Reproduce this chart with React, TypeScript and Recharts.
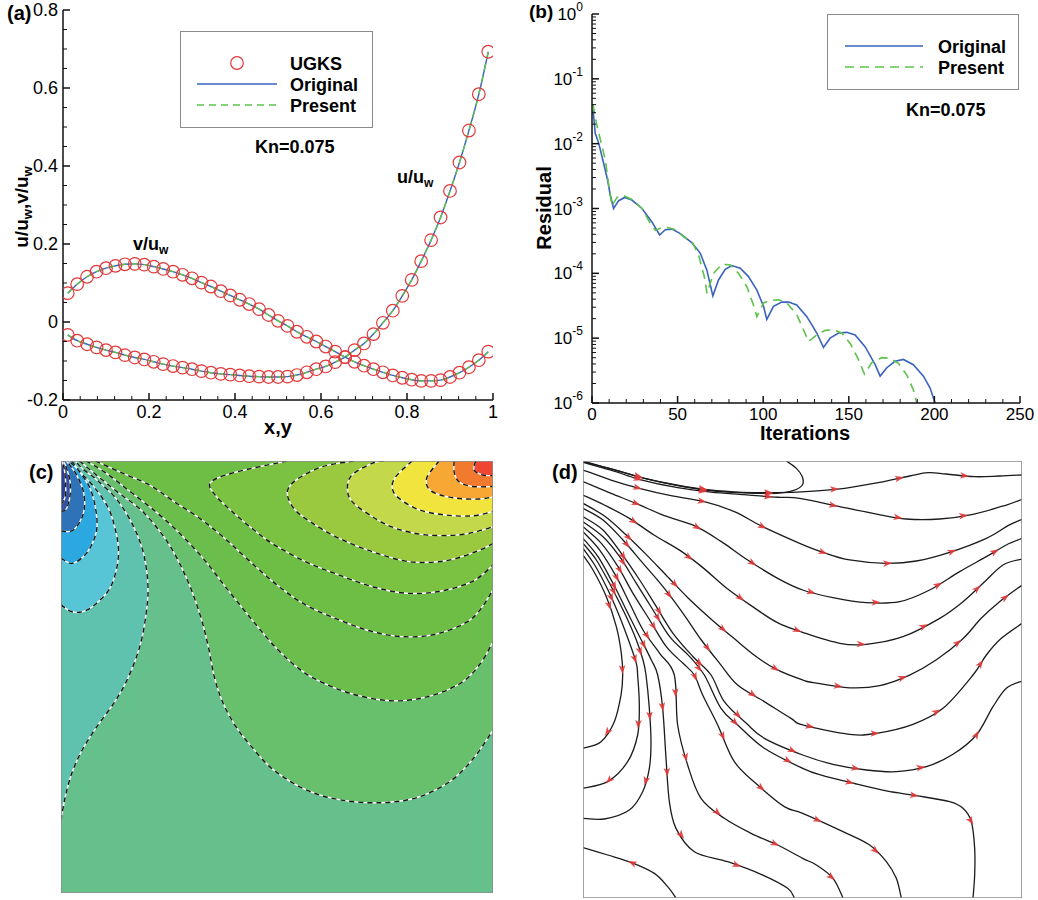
import React from 'react';
import { ComposedChart, LineChart, ScatterChart, Line, Scatter, XAxis, YAxis, Legend } from 'recharts';

const FONT = '"Liberation Sans", Arial, Helvetica, sans-serif';
const BLUE = '#3A63BE';
const GREEN = '#5EC24C';
const RED = '#E2383A';
const INK = '#111';

// (a) centreline velocity profiles, Kn = 0.075
const positions = [
  0.011, 0.033, 0.056, 0.078, 0.1, 0.122, 0.144, 0.167, 0.189, 0.211,
  0.233, 0.256, 0.278, 0.3, 0.322, 0.344, 0.367, 0.389, 0.411, 0.433,
  0.456, 0.478, 0.5, 0.522, 0.544, 0.567, 0.589, 0.611, 0.633, 0.656,
  0.678, 0.7, 0.722, 0.744, 0.767, 0.789, 0.811, 0.833, 0.856, 0.878,
  0.9, 0.922, 0.944, 0.967, 0.989,
];
const uProfile = [
  -0.033, -0.048, -0.057, -0.065, -0.072, -0.078, -0.085, -0.091, -0.096, -0.102,
  -0.108, -0.113, -0.117, -0.121, -0.126, -0.13, -0.133, -0.135, -0.137, -0.139,
  -0.14, -0.141, -0.141, -0.14, -0.136, -0.129, -0.121, -0.114, -0.103, -0.09,
  -0.072, -0.055, -0.031, -0.002, 0.029, 0.067, 0.108, 0.156, 0.21, 0.268,
  0.336, 0.409, 0.491, 0.584, 0.693,
];
const vProfile = [
  0.074, 0.097, 0.116, 0.129, 0.138, 0.144, 0.148, 0.149, 0.147, 0.142,
  0.136, 0.129, 0.121, 0.112, 0.101, 0.091, 0.079, 0.068, 0.057, 0.046,
  0.033, 0.018, 0.003, -0.01, -0.025, -0.038, -0.05, -0.063, -0.076, -0.09,
  -0.102, -0.112, -0.121, -0.129, -0.137, -0.143, -0.148, -0.151, -0.151, -0.149,
  -0.141, -0.13, -0.116, -0.098, -0.076,
];

// (b) residual history
const originalIter = [
  0.6, 1.9, 3.9, 6.8, 9.1, 10.7, 12.6, 15.6, 19.1, 23.3, 29.2, 35, 39.5, 42.8, 46.7, 51.6, 58.4,
  63.2, 67.1, 70.6, 73.9, 77.8, 81.7, 86.6, 91.4, 96.3, 100.2, 102.1, 106, 110.9, 114.8, 119.6,
  125.5, 131.3, 135.2, 139.1, 144, 148.8, 153.7, 159.5, 165.4, 168.3, 172.2, 177, 181.9, 187.7,
  193.6, 197.5, 200.4,
];
const originalRes = [
  3.3e-2, 1.45e-2, 1.02e-2, 5.0e-3, 2.75e-3, 1.6e-3, 1.0e-3, 1.32e-3, 1.48e-3, 1.35e-3, 1.0e-3,
  6.2e-4, 3.9e-4, 4.7e-4, 4.8e-4, 4.1e-4, 2.95e-4, 2.05e-4, 1.12e-4, 4.5e-5, 7.9e-5, 1.15e-4,
  1.32e-4, 1.2e-4, 8.9e-5, 5.5e-5, 3.1e-5, 1.95e-5, 3.1e-5, 3.6e-5, 3.6e-5, 3.25e-5, 2.15e-5,
  1.2e-5, 7.2e-6, 1.0e-5, 1.2e-5, 1.23e-5, 1.12e-5, 7.4e-6, 3.9e-6, 2.6e-6, 3.5e-6, 4.4e-6,
  4.7e-6, 3.9e-6, 2.6e-6, 1.7e-6, 1.0e-6,
];
const presentIter = [
  0.6, 2.5, 4.9, 7.8, 10.3, 11.7, 14.6, 18.5, 23.3, 29.2, 34, 37, 40.9, 44.4, 48.6, 54.5, 58.4,
  62.3, 66.1, 67.1, 71, 75.9, 80.7, 85.6, 90.5, 94.4, 96.3, 100.2, 104.1, 109, 113.8, 119.6,
  123.5, 126.5, 131.3, 136.2, 141, 145.9, 150.8, 155.6, 159.1, 163.4, 169.3, 174.1, 179, 183.9,
  187.7, 189.7,
];
const presentRes = [
  4.0e-2, 2.1e-2, 1.15e-2, 5.6e-3, 1.8e-3, 1.1e-3, 1.48e-3, 1.58e-3, 1.38e-3, 1.0e-3, 5.9e-4,
  4.6e-4, 5.1e-4, 5.1e-4, 4.7e-4, 3.5e-4, 3.1e-4, 1.9e-4, 7.9e-5, 4.9e-5, 1.0e-4, 1.38e-4,
  1.35e-4, 1.0e-4, 6.2e-5, 3.2e-5, 2.15e-5, 3.5e-5, 3.8e-5, 3.9e-5, 3.5e-5, 2.3e-5, 1.35e-5,
  8.9e-6, 1.12e-5, 1.32e-5, 1.35e-5, 1.2e-5, 8.3e-6, 4.7e-6, 2.8e-6, 4.2e-6, 5.0e-6, 4.9e-6,
  4.1e-6, 2.7e-6, 1.6e-6, 1.0e-6,
];

// (c) contour levels, x/y in percent of the cavity, y = 100 is the lid.
// left group wraps the upper-left corner, right group the upper-right one; outermost first
const contoursLeft = [
  [[0, 16.9], [1, 22.3], [2.5, 27.7], [4.9, 33.1], [8.3, 38.5], [12.2, 43.9], [14.9, 48.5], [17.2, 53.9], [18.8, 59.3], [19.9, 66.3], [20.1, 71.7], [19.1, 78.6], [16.8, 84.8], [13, 91], [8.3, 95.6], [5, 98.2], [3.3, 100]],
  [[0, 66.7], [2.5, 65.1], [5.6, 65.3], [8.6, 67.4], [11.3, 70.5], [12.9, 75.2], [13.3, 79.8], [12.5, 84.4], [11, 89], [7.9, 93.7], [4.6, 97.3], [2.5, 100]],
  [[0, 77.5], [2.5, 76.3], [5.2, 77.9], [7.1, 80.6], [8.3, 84.4], [8, 89], [6.7, 93.7], [4, 97.9], [1.8, 100]],
  [[0, 83.8], [2.5, 83.8], [4.4, 86], [5.4, 89], [5.2, 92.9], [3.6, 96.8], [1.9, 99.2], [1.2, 100]],
  [[0, 88.3], [1.3, 89], [2.1, 92.1], [2.1, 95.2], [1.3, 98.3], [0.6, 100]],
  [[0, 90], [0.9, 91.5], [1.1, 94.5], [0.8, 97.8], [0.3, 100]],
];
const contoursRight = [
  [[4.3, 100], [8.5, 96.5], [13.5, 92.5], [19.2, 88], [24.8, 81], [29, 73], [32, 65], [34, 57.5], [35.5, 50], [37.5, 44], [40.5, 38.5], [44, 34], [49.2, 28.5], [56.9, 23.8], [65, 21.5], [74, 20.9], [82.4, 22.1], [90, 25.8], [95.5, 31.2], [100, 37.7]],
  [[5.8, 100], [10, 97.5], [15, 93.7], [24, 86.5], [32, 78.5], [38.2, 70.7], [44.4, 63], [50, 56.5], [55, 52], [59.3, 49.3], [67, 46.2], [76.2, 44.5], [84.7, 45.4], [92.4, 48.5], [97, 53], [100, 58.2]],
  [[8, 100], [14, 97.3], [20.7, 94.3], [26, 90.7], [32, 86.8], [38, 82], [44, 76.5], [50, 71.3], [56.6, 66.7], [64.4, 63.2], [72.1, 60.5], [79.8, 59.3], [87.5, 60.1], [95.2, 63.6], [100, 70.1]],
  [[52.3, 100], [40, 97.3], [34.6, 95], [35.7, 92.1], [39.6, 88.3], [44.2, 84.4], [48.9, 80.9], [56.6, 76.7], [64.4, 73.6], [72.1, 70.9], [79.8, 69.4], [87.5, 69.8], [95.2, 72.1], [100, 75.9]],
  [[67.8, 100], [60.5, 98.7], [54.7, 95.8], [52.4, 92.9], [53.9, 89], [58.2, 85.6], [64.4, 82.1], [72.1, 79], [80.6, 76.7], [89, 76.9], [96, 79], [100, 80.9]],
  [[74.7, 100], [72.1, 99.5], [67.4, 96.8], [66.3, 93.7], [67.4, 90.6], [72.1, 87.1], [77.5, 84.4], [84.4, 82.9], [92.1, 82.9], [97.5, 84], [100, 84.8]],
  [[81.3, 100], [77.5, 96.4], [76.7, 93.7], [78.2, 91.4], [82.9, 88.7], [89, 87.5], [95.2, 87.3], [100, 88.3]],
  [[87.5, 100], [84.8, 96.4], [84.8, 94.1], [86.7, 92.5], [91.4, 91.4], [96.8, 91.2], [100, 91.7]],
  [[91, 100], [91, 97.5], [92.1, 95.2], [95.2, 94.1], [100, 94.1]],
  [[96, 100], [95.6, 97.9], [97.5, 96.8], [100, 96.6]],
];
const fillBase = '#66C08B';
const fillsLeft = ['#5FC2AE', '#57C5D6', '#2BA8E0', '#2E72B8', '#3253A3', '#2A4096'];
const fillsRight = ['#68C06C', '#6BBE4C', '#6EBE45', '#7BC243', '#9AC940', '#C3D94A', '#F1E53D', '#F6A734', '#F17A2E', '#EE4633'];

// (d) streamlines, x/y in percent of the cavity, points in flow direction
const streamlines = [
  [[0, 99.85], [6.83, 98.09], [14.05, 96.03], [21.26, 94.51], [28.85, 93.36], [36.45, 92.83], [44.04, 92.75], [51.63, 93.06], [59.6, 93.75], [67.2, 95.04], [74.41, 96.57], [78.59, 97.33], [82.76, 97.03], [89.22, 96.41], [94.91, 96.57], [100, 96.8]],
  [[0, 100], [7, 98], [14, 96], [21.3, 94.4], [28.9, 93.2], [36.5, 92.7], [44, 92.6], [47.84, 93.21], [49.96, 94.51], [49.96, 96.41], [48.6, 98.32], [46.32, 100]],
  [[0, 99.7], [6.38, 97.9], [13.21, 95.7], [21.56, 93.9], [29.16, 92.9], [36.75, 92.3], [44.34, 91.7], [49.35, 91.46], [58.47, 89.55], [66.06, 88.02], [73.65, 86.73], [81.25, 86.73], [88.84, 87.8], [96.43, 89.93], [100, 91.23]],
  [[0, 97.94], [6.38, 95.65], [12.83, 93.75], [20.05, 92.07], [27.64, 90.69], [34.47, 88.41], [40.93, 84.97], [49.35, 81.16], [54.67, 79.1], [60.74, 77.35], [69.1, 76.58], [75.93, 77.12], [83.52, 79.1], [91.88, 82.3], [96.81, 85.2], [100, 86.65]],
  [[0, 95.27], [6.38, 92.6], [12.07, 90.31], [18.53, 87.49], [25.36, 85.2], [31.44, 81.6], [37.51, 77.35], [44.34, 73.15], [50.04, 70.48], [56.95, 68.73], [64.54, 67.58], [72.13, 67.81], [78.97, 70.48], [85.8, 74.68], [91.88, 78.11], [96.43, 80.78], [100, 82.3]],
  [[0, 92.22], [4.86, 89.93], [10.55, 86.88], [16.25, 83], [22, 79.6], [27.3, 75.6], [32.6, 71], [38.3, 66.9], [44.3, 63], [50, 60.8], [58.47, 58.28], [64.54, 58.05], [72.89, 59.8], [81.25, 64], [86.56, 67.81], [91.12, 72.01], [95.67, 76.2], [100, 77.57]],
  [[0, 90.3], [4.9, 87.4], [9.6, 83.3], [14.2, 78.8], [19, 73.8], [24, 68.6], [29.2, 63.8], [34.5, 59.3], [39.5, 55.2], [44.3, 52.2], [50, 49.9], [52.4, 49.3], [60.7, 48.1], [67.6, 48.6], [74.4, 51], [80.5, 54.5], [86.6, 59.4], [90.7, 64], [94.9, 67.8], [100, 71.6]],
  [[0, 89.17], [4.56, 86.5], [9.11, 81.92], [13.67, 76.58], [18.22, 71.24], [22.78, 65.14], [26.96, 59.04], [31.13, 53.7], [35.23, 48.74], [41.31, 44.93], [47.38, 41.11], [50.04, 39.59], [60.74, 37.45], [66.82, 37.68], [75.17, 39.74], [82, 43.4], [88.84, 51.03], [91.88, 55.61], [95.29, 59.42], [100, 62.85]],
  [[0, 87.26], [4.56, 84.21], [8.73, 78.87], [12.91, 72.77], [16.7, 66.67], [20.5, 60.56], [25.06, 55.22], [29.16, 51.03], [32.19, 44.93], [37.21, 39.97], [41.31, 36.54], [50.04, 32.72], [56.95, 30.59], [64.54, 29.29], [71.37, 28.91], [78.21, 30.05], [84.28, 32.88], [89.6, 37.3], [93.39, 43.78], [96.43, 47.98], [100, 49.66]],
  [[0, 86.12], [4.56, 82.68], [8.35, 78.11], [12.15, 72.01], [15.95, 65.9], [19.74, 59.8], [24.3, 55.22], [27.64, 51.03], [31.44, 43.4], [35.23, 39.59], [41.31, 34.25], [50.04, 29.67], [54.67, 27.99], [60.74, 26.47], [69.1, 24.49], [75.93, 23.42], [83.52, 22.04], [86.56, 20.52], [88.46, 17.47], [89.22, 11.36], [89.22, 5.26], [88.84, 0]],
  [[0, 84.97], [4.18, 81.16], [7.97, 75.82], [11.39, 69.72], [15.19, 63.62], [18.98, 57.51], [22.78, 53.7], [25.36, 51.03], [27.26, 46.45], [30.68, 39.59], [34.47, 31.2], [39.79, 25.86], [45.86, 20.9], [50.04, 19.37], [59.23, 15.18], [65.3, 12.13], [69.1, 8.31], [71.37, 4.5], [72.51, 0]],
  [[0, 83.83], [3.8, 79.63], [7.59, 73.53], [10.63, 67.43], [13.67, 61.33], [17.46, 55.99], [20.8, 51.03], [21.56, 39.59], [23.84, 30.44], [26.88, 22.81], [32.19, 18.23], [38.27, 14.8], [44.34, 12.13], [50.04, 9.08], [53.15, 7.55], [56.95, 4.5], [59.23, 0]],
  [[0, 82.3], [3.42, 78.11], [6.83, 72.01], [9.87, 65.9], [12.91, 59.8], [15.57, 54.46], [17.01, 51.03], [18.15, 43.4], [18.91, 31.96], [19.67, 22.04], [21.18, 15.94], [25.36, 10.6], [32.95, 8.31], [40.55, 5.42], [46.62, 2.21], [48.14, 0]],
  [[0, 81.16], [3.04, 77.35], [6.45, 71.24], [9.49, 65.14], [12.15, 59.04], [13.67, 54.46], [14.35, 51.03], [15.11, 43.4], [15.49, 35.77], [15.11, 29.67], [13.59, 24.33], [10.55, 20.14], [4.86, 18.08], [0, 18.23]],
  [[0, 80.02], [2.66, 76.2], [5.69, 70.48], [8.35, 64.38], [10.63, 58.28], [12.15, 53.7], [12.45, 51.03], [12.83, 44.16], [12.45, 37.3], [10.17, 31.2], [5.62, 26.62], [0, 25.1]],
  [[0, 78.49], [2.28, 75.06], [5.32, 68.95], [7.59, 62.09], [8.73, 55.99], [9.04, 51.03], [8.66, 46.45], [7.14, 40.35], [4.1, 35.77], [0, 34.25]],
  [[21.18, 0], [19.29, 2.59], [16.25, 5.64], [10.93, 8.16], [5.62, 9.84], [0, 11.52]],
];

const profileData = positions.map((x, i) => ({ x, u: uProfile[i], v: vProfile[i] }));
const originalData = originalIter.map((it, i) => ({ it, r: originalRes[i] }));
const presentData = presentIter.map((it, i) => ({ it, r: presentRes[i] }));

const toPts = (c: number[][]) => c.map(([x, y]) => ({ x, y }));
const boxPts = toPts([[0, 0], [100, 0], [100, 100], [0, 100]]);

// arrowheads every `step` units of arc length along a streamline
function arrowsAlong(line: number[][], step = 15, start = 13) {
  const out: { x: number; y: number; ang: number }[] = [];
  let total = 0;
  for (let i = 1; i < line.length; i++) total += Math.hypot(line[i][0] - line[i - 1][0], line[i][1] - line[i - 1][1]);
  let acc = 0;
  let next = start;
  for (let i = 0; i < line.length - 1; i++) {
    const [x0, y0] = line[i];
    const [x1, y1] = line[i + 1];
    const seg = Math.hypot(x1 - x0, y1 - y0);
    while (next <= acc + seg && next < total - 4) {
      const t = (next - acc) / seg;
      out.push({ x: x0 + t * (x1 - x0), y: y0 + t * (y1 - y0), ang: (Math.atan2(-(y1 - y0), x1 - x0) * 180) / Math.PI });
      next += step;
    }
    acc += seg;
  }
  return out;
}
const arrowPts = streamlines.flatMap((s) => arrowsAlong(s));

// Catmull-Rom through the first n points, straight segments after that
function smoothPath(pts: { x: number; y: number }[], n: number, close: boolean) {
  const c = pts.slice(0, Math.max(n, 1));
  let d = `M${c[0].x},${c[0].y}`;
  for (let i = 0; i < c.length - 1; i++) {
    const p0 = c[i - 1] || c[i];
    const p1 = c[i];
    const p2 = c[i + 1];
    const p3 = c[i + 2] || p2;
    d += `C${p1.x + (p2.x - p0.x) / 6},${p1.y + (p2.y - p0.y) / 6},${p2.x - (p3.x - p1.x) / 6},${p2.y - (p3.y - p1.y) / 6},${p2.x},${p2.y}`;
  }
  for (const p of pts.slice(Math.max(n, 1))) d += `L${p.x},${p.y}`;
  return close ? d + 'Z' : d;
}

const noDot = () => null;
const fillLine = (color: string, n: number) => (p: any) => (
  <path d={smoothPath(p.points, n, true)} fill={color} stroke={color} strokeWidth={0.6} />
);
const contourLine = (p: any) => {
  const d = smoothPath(p.points, p.points.length, false);
  return (
    <g fill="none">
      <path d={d} stroke="#fff" strokeWidth={1.4} />
      <path d={d} stroke="#151515" strokeWidth={1.4} strokeDasharray="5 4" />
    </g>
  );
};
const streamLine = (p: any) => (
  <path d={smoothPath(p.points, p.points.length, false)} fill="none" stroke="#1b1b1b" strokeWidth={1.3} />
);
const boxFrame = (p: any) => (
  <path d={smoothPath(p.points, 0, true)} fill="none" stroke="#8d8d8d" strokeWidth={1.6} />
);
const arrowHead = (p: any) => (
  <path
    d="M5,0L-4,-3.3L-1.8,0L-4,3.3Z"
    fill="#E23A3A"
    fillOpacity={0.9}
    transform={`translate(${p.cx},${p.cy}) rotate(${p.payload.ang})`}
  />
);

// inward frame ticks on all four sides, labels on the left and bottom only
type Side = 'bottom' | 'top' | 'left' | 'right';
const near = (v: number, m: number) => Math.abs(v - m) <= 1e-9 + 1e-6 * Math.abs(m);
const frameTick =
  (side: Side, majors: number[], label?: (x: number, y: number, v: number) => React.ReactNode) =>
  (props: any) => {
    const { x, y, payload } = props;
    const v = payload.value;
    const major = majors.some((m) => near(v, m));
    const len = major ? 7 : 4;
    const dx = side === 'left' ? len : side === 'right' ? -len : 0;
    const dy = side === 'bottom' ? -len : side === 'top' ? len : 0;
    return (
      <g>
        <line x1={x} y1={y} x2={x + dx} y2={y + dy} stroke={INK} strokeWidth={major ? 1.5 : 1} />
        {major && label ? label(x, y, v) : null}
      </g>
    );
  };

const numText = (v: number) => String(Math.round(v * 100) / 100);
const txt = { fontFamily: FONT, fill: '#000' };
const aBottomLabel = (x: number, y: number, v: number) => (
  <text x={x} y={y + 18} textAnchor="middle" fontSize={18} {...txt}>{numText(v)}</text>
);
const aLeftLabel = (x: number, y: number, v: number) => (
  <text x={x - 5} y={y + 6} textAnchor="end" fontSize={18} {...txt}>{numText(v)}</text>
);
const bBottomLabel = (x: number, y: number, v: number) => (
  <text x={x} y={y + 17} textAnchor="middle" fontSize={17} {...txt}>{v}</text>
);
const bLeftLabel = (x: number, y: number, v: number) => (
  <text x={x - 9} y={y + 6} textAnchor="end" fontSize={17} {...txt}>
    10<tspan dy={-9} fontSize={12}>{Math.round(Math.log10(v))}</tspan>
  </text>
);

const aTicksX = Array.from({ length: 26 }, (_, i) => +(i * 0.04).toFixed(2));
const aMajorX = [0, 0.2, 0.4, 0.6, 0.8, 1];
const aTicksY = Array.from({ length: 21 }, (_, i) => +(-0.2 + i * 0.05).toFixed(2));
const aMajorY = [-0.2, 0, 0.2, 0.4, 0.6, 0.8];
const bTicksX = Array.from({ length: 26 }, (_, i) => i * 10);
const bMajorX = [0, 50, 100, 150, 200, 250];
const bMajorY = [1e-6, 1e-5, 1e-4, 1e-3, 1e-2, 1e-1, 1];
const bTicksY = [...bMajorY.slice(0, 6).flatMap((d) => [1, 2, 3, 4, 5, 6, 7, 8, 9].map((m) => m * d)), 1];

const frameAxis = { stroke: INK, strokeWidth: 1.5 };
const flat = { tickSize: 0, tickMargin: 0, tickLine: false, interval: 0 as const, axisLine: frameAxis, allowDataOverflow: true };

const legendText = { fontFamily: FONT, fontWeight: 700, fontSize: 18, fill: '#000' };

const LegendA = () => (
  <svg width={200} height={130} style={{ overflow: 'visible' }}>
    <rect x={0.5} y={0.5} width={192} height={96} fill="#fff" stroke="#8a8a8a" />
    <circle cx={57} cy={32} r={6.3} fill="none" stroke={RED} strokeWidth={1.2} />
    <line x1={17} x2={97} y1={53} y2={53} stroke={BLUE} strokeWidth={1.4} />
    <line x1={17} x2={97} y1={74} y2={74} stroke={GREEN} strokeWidth={1.4} strokeDasharray="7 5" />
    <text x={110} y={38.5} {...legendText}>UGKS</text>
    <text x={110} y={59.5} {...legendText}>Original</text>
    <text x={110} y={80.5} {...legendText}>Present</text>
    <text x={75} y={122} {...legendText}>Kn=0.075</text>
  </svg>
);

const LegendB = () => (
  <svg width={200} height={110} style={{ overflow: 'visible' }}>
    <rect x={0.5} y={0.5} width={191} height={75} fill="#fff" stroke="#8a8a8a" />
    <line x1={18} x2={96} y1={32} y2={32} stroke={BLUE} strokeWidth={1.6} />
    <line x1={18} x2={96} y1={53} y2={53} stroke={GREEN} strokeWidth={1.6} strokeDasharray="9 6" />
    <text x={111} y={38.5} {...legendText}>Original</text>
    <text x={111} y={59.5} {...legendText}>Present</text>
    <text x={79} y={101.5} {...legendText}>Kn=0.075</text>
  </svg>
);

function ProfilesPanel() {
  return (
    <div style={{ position: 'absolute', left: 0, top: 0 }}>
      <ComposedChart width={520} height={450} data={profileData} margin={{ top: 10, right: 27, bottom: 0, left: 0 }}>
        <XAxis xAxisId="b" dataKey="x" type="number" domain={[0, 1]} ticks={aTicksX} height={50} {...flat} tick={frameTick('bottom', aMajorX, aBottomLabel)} />
        <XAxis xAxisId="t" orientation="top" dataKey="x" type="number" domain={[0, 1]} ticks={aTicksX} height={0} {...flat} tick={frameTick('top', aMajorX)} />
        <YAxis yAxisId="l" type="number" domain={[-0.2, 0.8]} ticks={aTicksY} width={63} {...flat} tick={frameTick('left', aMajorY, aLeftLabel)} />
        <YAxis yAxisId="r" orientation="right" type="number" domain={[-0.2, 0.8]} ticks={aTicksY} width={0} {...flat} tick={frameTick('right', aMajorY)} />
        {['u', 'v'].map((k) => (
          <Line key={'m' + k} xAxisId="b" yAxisId="l" dataKey={k} stroke="none" dot={{ r: 6.3, stroke: RED, strokeWidth: 1.2, fill: 'none' }} activeDot={false} isAnimationActive={false} />
        ))}
        {['u', 'v'].map((k) => (
          <Line key={'o' + k} xAxisId="b" yAxisId="l" dataKey={k} type="monotone" stroke={BLUE} strokeWidth={1.4} dot={false} activeDot={false} isAnimationActive={false} />
        ))}
        {['u', 'v'].map((k) => (
          <Line key={'p' + k} xAxisId="b" yAxisId="l" dataKey={k} type="monotone" stroke={GREEN} strokeWidth={1.4} strokeDasharray="7 5" dot={false} activeDot={false} isAnimationActive={false} />
        ))}
        <Legend content={LegendA} layout="horizontal" verticalAlign="middle" align="center" wrapperStyle={{ left: 180, top: 31, width: 200, height: 130 }} />
      </ComposedChart>
    </div>
  );
}

function ResidualPanel() {
  return (
    <div style={{ position: 'absolute', left: 520, top: 0 }}>
      <LineChart width={518} height={450} margin={{ top: 14, right: 18, bottom: 0, left: 0 }}>
        <XAxis xAxisId="b" dataKey="it" type="number" domain={[0, 250]} ticks={bTicksX} height={47} {...flat} tick={frameTick('bottom', bMajorX, bBottomLabel)} />
        <XAxis xAxisId="t" orientation="top" dataKey="it" type="number" domain={[0, 250]} ticks={bTicksX} height={0} {...flat} tick={frameTick('top', bMajorX)} />
        <YAxis yAxisId="l" type="number" scale="log" domain={[1e-6, 1]} ticks={bTicksY} width={72} {...flat} tick={frameTick('left', bMajorY, bLeftLabel)} />
        <YAxis yAxisId="r" orientation="right" type="number" scale="log" domain={[1e-6, 1]} ticks={bTicksY} width={0} {...flat} tick={frameTick('right', bMajorY)} />
        <Line xAxisId="b" yAxisId="l" data={originalData} dataKey="r" type="linear" stroke={BLUE} strokeWidth={1.6} dot={false} activeDot={false} isAnimationActive={false} />
        <Line xAxisId="b" yAxisId="l" data={presentData} dataKey="r" type="linear" stroke={GREEN} strokeWidth={1.6} strokeDasharray="9 6" dot={false} activeDot={false} isAnimationActive={false} />
        <Legend content={LegendB} layout="horizontal" verticalAlign="middle" align="center" wrapperStyle={{ left: 307, top: 14, width: 200, height: 110 }} />
      </LineChart>
    </div>
  );
}

const hiddenX = <XAxis type="number" dataKey="x" domain={[0, 100]} hide height={0} allowDataOverflow />;
const hiddenY = <YAxis type="number" dataKey="y" domain={[0, 100]} hide width={0} allowDataOverflow />;

function ContourPanel() {
  return (
    <div style={{ position: 'absolute', left: 0, top: 450 }}>
      <ScatterChart width={520} height={450} margin={{ top: 11, right: 27, bottom: 7, left: 61 }}>
        {hiddenX}
        {hiddenY}
        <Scatter data={boxPts} shape={noDot} line={fillLine(fillBase, 0)} isAnimationActive={false} />
        {contoursLeft.map((c, i) => (
          <Scatter key={'fl' + i} data={[...toPts(c), { x: 0, y: 100 }]} shape={noDot} line={fillLine(fillsLeft[i], c.length)} isAnimationActive={false} />
        ))}
        {contoursRight.map((c, i) => (
          <Scatter key={'fr' + i} data={[...toPts(c), { x: 100, y: 100 }]} shape={noDot} line={fillLine(fillsRight[i], c.length)} isAnimationActive={false} />
        ))}
        {[...contoursLeft, ...contoursRight].map((c, i) => (
          <Scatter key={'c' + i} data={toPts(c)} shape={noDot} line={contourLine} isAnimationActive={false} />
        ))}
        <Scatter data={boxPts} shape={noDot} line={boxFrame} isAnimationActive={false} />
      </ScatterChart>
    </div>
  );
}

function StreamPanel() {
  return (
    <div style={{ position: 'absolute', left: 520, top: 450 }}>
      <ScatterChart width={518} height={450} margin={{ top: 11, right: 16, bottom: 2, left: 63 }}>
        {hiddenX}
        {hiddenY}
        {streamlines.map((s, i) => (
          <Scatter key={'s' + i} data={toPts(s)} shape={noDot} line={streamLine} isAnimationActive={false} />
        ))}
        <Scatter data={arrowPts} shape={arrowHead} isAnimationActive={false} />
        <Scatter data={boxPts} shape={noDot} line={boxFrame} isAnimationActive={false} />
      </ScatterChart>
    </div>
  );
}

export default function App() {
  const bold = { fontFamily: FONT, fontWeight: 700, fill: '#000' };
  return (
    <div style={{ position: 'absolute', left: 0, top: 0, width: 1038, height: 900, background: '#fff' }}>
      <ProfilesPanel />
      <ResidualPanel />
      <ContourPanel />
      <StreamPanel />
      <svg width={1038} height={900} style={{ position: 'absolute', left: 0, top: 0, pointerEvents: 'none' }}>
        <text x={7} y={20} fontSize={20} {...bold}>(a)</text>
        <text x={529} y={18} fontSize={19} {...bold}>(b)</text>
        <text x={29} y={479} fontSize={20} {...bold}>(c)</text>
        <text x={552} y={479} fontSize={20} {...bold}>(d)</text>
        <text x={278} y={434} fontSize={20} textAnchor="middle" {...bold}>x,y</text>
        <text x={805} y={440} fontSize={20} textAnchor="middle" {...bold}>Iterations</text>
        <text transform="translate(27.5,207) rotate(-90)" fontSize={19} textAnchor="middle" {...bold}>
          u/u<tspan dy={4} fontSize={13}>w</tspan>
          <tspan dy={-4}>,v/u</tspan>
          <tspan dy={4} fontSize={13}>w</tspan>
        </text>
        <text transform="translate(551,208) rotate(-90)" fontSize={20} textAnchor="middle" {...bold}>Residual</text>
        <text x={397} y={183} fontSize={18} {...bold}>
          u/u<tspan dy={4} fontSize={12}>w</tspan>
        </text>
        <text x={133} y={250} fontSize={18} {...bold}>
          v/u<tspan dy={4} fontSize={12}>w</tspan>
        </text>
      </svg>
    </div>
  );
}
